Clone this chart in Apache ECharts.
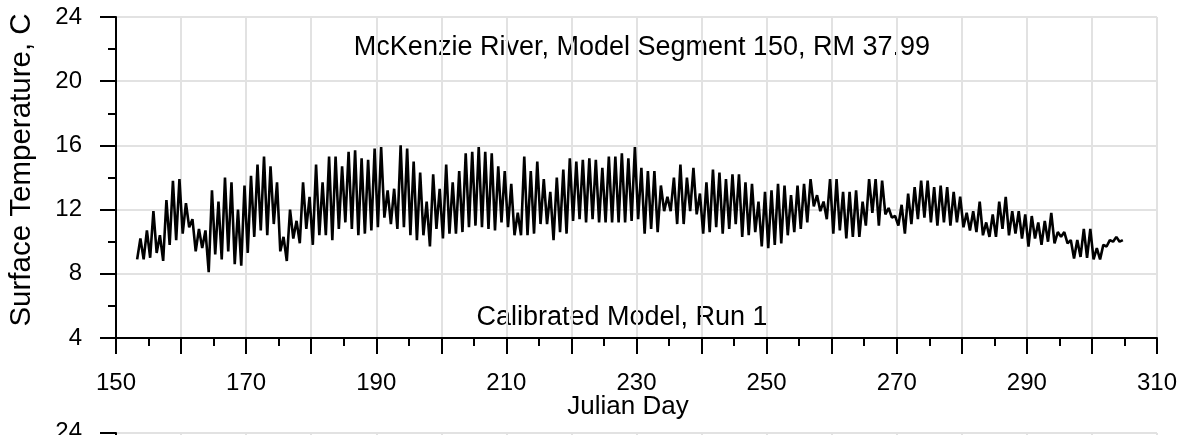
<!DOCTYPE html>
<html><head><meta charset="utf-8">
<script src="https://cdn.jsdelivr.net/npm/echarts@6/dist/echarts.min.js"></script>
<style>html,body{margin:0;padding:0;background:#fff}#c{width:1186px;height:435px}</style>
</head><body><div id="c"></div>
<script>
// ---- data ----
const firstDay = 153;
const dailyMin = [
 8.9, 8.9, 9.0, 9.3, 8.8, 9.8,10.1,10.5,10.9, 9.4,   // 153-162
 9.6, 8.1, 9.2, 8.9, 9.4, 8.6, 8.5, 9.3,10.3,10.7,   // 163-172
10.4,11.1, 9.4, 8.8,10.2, 9.9,10.8, 9.8,10.4,10.4,   // 173-182
10.1,10.8,11.2,10.8,10.4,10.5,10.7,10.9,11.5,11.1,   // 183-192
10.8,10.9,10.4,10.1,10.4, 9.7,10.8,10.2,10.5,10.5,   // 193-202
10.6,10.9,11.0,10.9,10.8,10.7,11.2,10.9,10.4,10.4,   // 203-212
10.4,10.5,11.1,11.1,10.1,10.6,10.5,11.3,11.4,11.2,   // 213-222
11.4,11.2,11.2,11.2,11.2,11.2,11.3,11.4,10.5,10.8,   // 223-232
10.6,11.9,11.9,11.1,11.1,11.9,11.7,10.5,10.6,10.9,   // 233-242
10.5,10.8,11.1,10.3,10.4,10.6, 9.7, 9.6, 9.8, 9.9,   // 243-252
10.4,10.6,10.8,11.2,12.2,11.9,11.4,10.5,10.7,10.2,   // 253-262
10.3,10.3,11.0,11.8,11.0,11.7,11.5,11.0,10.5,11.1,   // 263-272
11.4,11.5,11.2,11.0,11.2,11.0,11.2,10.9,10.7,10.6,   // 273-282
10.4,10.3,10.3,10.8,10.4,10.5,10.2, 9.7,10.2, 9.8,   // 283-292
10.0, 9.9,10.3, 9.9, 8.95,9.05,9.0, 8.9, 8.9, 9.7,   // 293-302
10.0,10.0                                            // 303-304
];
const dailyMax = [
10.2,10.7,11.9,10.4,12.6,13.8,13.9,12.4,11.4,10.8,   // 153-162
10.7,13.2,12.5,14.0,13.7,12.0,13.5,14.1,14.8,15.3,   // 163-172
14.7,13.7,10.3,12.0,11.3,13.7,12.8,14.8,13.7,15.3,   // 173-182
15.3,14.7,15.6,15.7,15.2,15.1,15.8,15.9,13.2,13.3,   // 183-192
16.0,15.8,15.0,14.3,12.5,14.2,13.3,14.8,13.7,14.4,   // 193-202
15.5,15.6,15.9,15.6,15.5,14.7,14.4,13.6,11.8,15.3,   // 203-212
14.4,15.0,13.9,13.1,14.0,14.5,15.2,15.0,15.1,15.2,   // 213-222
15.1,14.6,15.3,15.3,15.5,15.2,15.9,14.6,14.4,14.4,   // 223-232
13.5,12.8,14.0,14.8,14.0,14.6,13.0,13.7,14.5,14.3,   // 233-242
13.9,14.2,14.2,13.7,13.6,12.5,13.1,13.2,13.6,13.5,   // 243-252
12.9,13.5,13.6,13.9,12.9,12.5,13.9,13.9,13.1,13.1,   // 253-262
13.2,12.5,13.9,13.9,13.8,12.1,11.6,12.3,13.0,13.4,   // 263-272
13.8,13.8,13.4,13.5,13.4,13.1,12.8,11.8,11.9,12.5,   // 273-282
11.2,11.7,12.5,12.8,11.9,11.9,11.7,11.6,11.2,11.3,   // 283-292
11.8,10.6,10.6,10.1,10.1,10.8,10.8, 9.6, 9.8,10.1,   // 293-302
10.3,10.1                                            // 303-304
];
const xTickLabels = [150, 170, 190, 210, 230, 250, 270, 290, 310];
const yTickLabels = [4, 8, 12, 16, 20, 24];
const titleText = 'McKenzie River, Model Segment 150, RM 37.99';
const noteText = 'Calibrated Model, Run 1';
const xName = 'Julian Day';
const yName = 'Surface Temperature, C';
const nextPanelTopLabel = '24';

// ---- build series points (min early in day, max late in day) ----
const points = [];
for (let i = 0; i < dailyMin.length; i++) {
  const d = firstDay + i;
  points.push([d + 0.25, dailyMin[i]]);
  points.push([d + 0.75, dailyMax[i]]);
}

const FONT = 'Liberation Sans, Arial, sans-serif';
const black = '#000';
const gridCol = '#e2e2e2';

function yAxisCfg(gi, showLabel) {
  return {
    type: 'value', gridIndex: gi, min: 4, max: 24, interval: 4,
    axisLine: {show: true, lineStyle: {color: black, width: 2}},
    axisTick: {show: true, length: 16, lineStyle: {color: black, width: 2}},
    minorTick: {show: true, splitNumber: 2, length: 8, lineStyle: {color: black, width: 2}},
    splitLine: {show: true, lineStyle: {color: gridCol, width: 2}},
    axisLabel: {show: showLabel, fontSize: 24, color: black, fontFamily: FONT, margin: 34,
      formatter: v => (yTickLabels.indexOf(v) >= 0 ? String(v) : '')}
  };
}

const chart = echarts.init(document.getElementById('c'), null, {renderer: 'canvas'});
chart.setOption({
  animation: false,
  backgroundColor: '#fff',
  grid: [
    {left: 116, right: 29, top: 17, bottom: 97, containLabel: false},
    {left: 116, right: 29, top: 433, height: 321, containLabel: false}
  ],
  xAxis: [{
    type: 'value', gridIndex: 0, min: 150, max: 310, interval: 10,
    axisLine: {show: true, onZero: false, lineStyle: {color: black, width: 2}},
    axisTick: {show: true, length: 16, lineStyle: {color: black, width: 2}},
    minorTick: {show: true, splitNumber: 2, length: 8, lineStyle: {color: black, width: 2}},
    splitLine: {show: true, lineStyle: {color: gridCol, width: 2}},
    axisLabel: {fontSize: 24, color: black, fontFamily: FONT, margin: 33,
      formatter: v => (xTickLabels.indexOf(v) >= 0 ? String(v) : '')}
  }, {
    type: 'value', gridIndex: 1, min: 150, max: 310, interval: 10, show: true,
    axisLine: {show: false}, axisTick: {show: false}, axisLabel: {show: false},
    splitLine: {show: true, lineStyle: {color: gridCol, width: 2}}
  }],
  yAxis: [yAxisCfg(0, true), yAxisCfg(1, false)],
  graphic: [
    {type: 'text', x: 642, y: 48, silent: true,
      style: {text: titleText, fontSize: 27, fontFamily: FONT, fill: black,
        align: 'center', verticalAlign: 'middle', textAlign: 'center', textVerticalAlign: 'middle'}},
    {type: 'text', x: 622, y: 318, silent: true,
      style: {text: noteText, fontSize: 27, fontFamily: FONT, fill: black,
        align: 'center', verticalAlign: 'middle', textAlign: 'center', textVerticalAlign: 'middle'}},
    {type: 'text', x: 628, y: 407, silent: true,
      style: {text: xName, fontSize: 26, fontFamily: FONT, fill: black,
        align: 'center', verticalAlign: 'middle', textAlign: 'center', textVerticalAlign: 'middle'}},
    {type: 'text', x: 22, y: 170, rotation: Math.PI / 2, silent: true,
      style: {text: yName, fontSize: 29.5, fontFamily: FONT, fill: black,
        align: 'center', verticalAlign: 'middle', textAlign: 'center', textVerticalAlign: 'middle'}},
    {type: 'text', x: 82, y: 432, silent: true,
      style: {text: nextPanelTopLabel, fontSize: 24, fontFamily: FONT, fill: black,
        align: 'right', verticalAlign: 'middle', textAlign: 'right', textVerticalAlign: 'middle'}}
  ],
  series: [{
    type: 'line', xAxisIndex: 0, yAxisIndex: 0, data: points,
    showSymbol: false, symbol: 'none', smooth: false,
    lineStyle: {color: black, width: 2.6}
  }]
});
</script>
</body></html>
